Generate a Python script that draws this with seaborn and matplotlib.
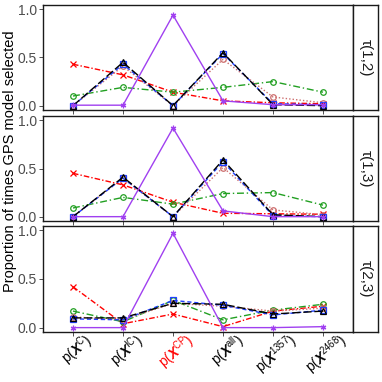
import numpy as np
import pandas as pd
import matplotlib
matplotlib.use("Agg")
import matplotlib.pyplot as plt
import matplotlib.transforms as mtransforms
import seaborn as sns

sns.set_theme(style="white")
plt.rcParams['font.family'] = ['Liberation Sans', 'DejaVu Sans']
plt.rcParams['mathtext.fontset'] = 'custom'
plt.rcParams['mathtext.rm'] = 'Liberation Sans'
plt.rcParams['mathtext.it'] = 'Liberation Sans:italic'
plt.rcParams['mathtext.bf'] = 'Liberation Sans:bold'
plt.rcParams['mathtext.bfit'] = 'Liberation Sans:bold:italic'

x_pos = [1, 2, 3, 4, 5, 6]
tick_labels = [r'p($\boldsymbol{X}^{\mathrm{C}}$)', r'p($\boldsymbol{X}^{\mathrm{IC}}$)',
               r'p($\boldsymbol{X}^{\mathrm{CP}}$)', r'p($\boldsymbol{X}^{\mathrm{all}}$)',
               r'p($\boldsymbol{X}^{1357}$)', r'p($\boldsymbol{X}^{2468}$)']
panels = ['τ(1,2)', 'τ(1,3)', 'τ(2,3)']

# series values per panel
red_vals = [[0.43, 0.32, 0.14, 0.05, 0.03, 0.02],
            [0.45, 0.33, 0.15, 0.035, 0.03, 0.025],
            [0.42, 0.04, 0.14, 0.01, 0.17, 0.22]]
green_vals = [[0.10, 0.19, 0.14, 0.19, 0.25, 0.14],
              [0.09, 0.20, 0.13, 0.24, 0.25, 0.12],
              [0.17, 0.06, 0.28, 0.08, 0.18, 0.24]]
black_vals = [[0.0, 0.45, 0.0, 0.55, 0.01, 0.0],
              [0.0, 0.41, 0.0, 0.59, 0.02, 0.0],
              [0.10, 0.10, 0.25, 0.24, 0.14, 0.17]]
blue_vals = [[0.0, 0.43, 0.0, 0.54, 0.02, 0.01],
             [0.0, 0.40, 0.0, 0.57, 0.01, 0.0],
             [0.09, 0.08, 0.28, 0.23, 0.13, 0.18]]
brown_vals = [[0.0, 0.41, 0.0, 0.48, 0.09, 0.03],
              [0.0, 0.40, 0.0, 0.51, 0.07, 0.02],
              [0.11, 0.08, 0.25, 0.22, 0.17, 0.20]]
purple_vals = [[0.005, 0.005, 0.94, 0.05, 0.01, 0.01],
               [0.0, 0.0, 0.92, 0.06, 0.0, 0.0],
               [0.0, 0.0, 0.97, 0.0, 0.0, 0.01]]

series = [
    dict(vals=red_vals, color='#FF0000', marker='x', ls=(0, (4, 1.5, 1, 1.5)), mfc='#FF0000'),
    dict(vals=green_vals, color='#22A022', marker='o', ls=(0, (5, 2, 1, 2)), mfc='none'),
    dict(vals=brown_vals, color='#CD6F6F', marker='o', ls=(0, (1, 1.5)), mfc='none'),
    dict(vals=blue_vals, color='#1F3FFF', marker='s', ls=(0, (3, 2)), mfc='none'),
    dict(vals=black_vals, color='#000000', marker='^', ls=(0, (6, 2)), mfc='none'),
    dict(vals=purple_vals, color='#A040F0', marker=(6, 2, 0), ls='-', mfc='#A040F0'),
]

W = H = 382
fig = plt.figure(figsize=(W / 100, H / 100), dpi=100)
left, right, sright = 43, 353, 378
rows = [(5, 110), (116, 221), (226, 332)]
axes = []
for i, (top, bot) in enumerate(rows):
    ax = fig.add_axes([left / W, 1 - bot / H, (right - left) / W, (bot - top) / H])
    for s in series:
        df = pd.DataFrame({'x': x_pos, 'y': s['vals'][i]})
        sns.lineplot(data=df, x='x', y='y', ax=ax, color=s['color'], marker=s['marker'],
                     linestyle=s['ls'], linewidth=1.0, markersize=4,
                     markerfacecolor=s['mfc'], markeredgecolor=s['color'],
                     markeredgewidth=0.9)
    ax.set_xlim(0.4, 6.6)
    ax.set_ylim(-0.045, 1.045)
    ax.set_yticks([0, 0.5, 1.0])
    ax.set_yticklabels(['0.0', '0.5', '1.0'])
    ax.set_xticks(x_pos)
    ax.set_xlabel('')
    ax.set_ylabel('')
    ax.tick_params(axis='both', which='both', direction='out', length=3, width=0.6,
                   color='#333333', labelcolor='#4D4D4D', labelsize=10, pad=1.5,
                   left=True, bottom=True)
    for sp in ax.spines.values():
        sp.set_color('#1a1a1a')
        sp.set_linewidth(1.0)
    if i < 2:
        ax.set_xticklabels([])
    else:
        ax.set_xticklabels(tick_labels, rotation=40, ha='center', va='top',
                           rotation_mode='default', fontsize=9.8, color='black')
        ax.get_xticklabels()[2].set_color('#FF0000')
        ax.tick_params(axis='x', pad=0)
        off = mtransforms.ScaledTranslation(4 / 100, 6 / 100, fig.dpi_scale_trans)
        for lab in ax.get_xticklabels():
            lab.set_transform(lab.get_transform() + off)
    # strip
    sax = fig.add_axes([right / W, 1 - bot / H, (sright - right) / W, (bot - top) / H])
    sax.set_xticks([]); sax.set_yticks([])
    for sp in sax.spines.values():
        sp.set_color('#1a1a1a')
        sp.set_linewidth(1.0)
    sax.set_facecolor('white')
    sax.text(0.5, 0.5, panels[i], rotation=-90, ha='center', va='center',
             fontsize=11, color='#1a1a1a', transform=sax.transAxes)
    axes.append(ax)

fig.text(10 / W, 1 - 161 / H, 'Proportion of times GPS model selected', rotation=90,
         ha='center', va='center', fontsize=10.5, color='black')

fig.savefig('out.png', dpi=100)
